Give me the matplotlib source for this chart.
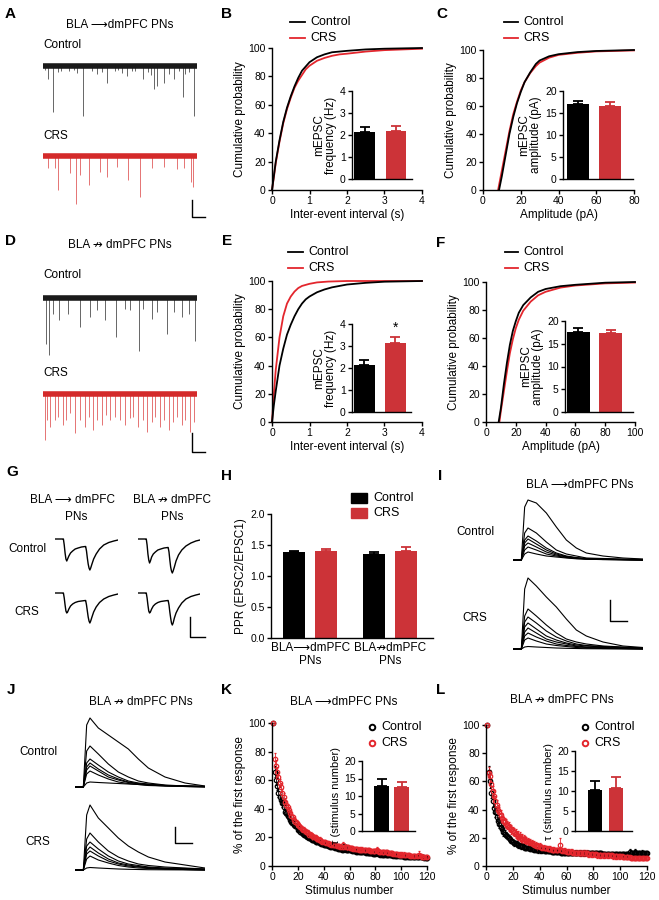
import numpy as np
import matplotlib
matplotlib.use('Agg')
import matplotlib.pyplot as plt
from matplotlib.lines import Line2D
from matplotlib.patches import Rectangle

plt.rcParams['font.family'] = ['Liberation Sans', 'DejaVu Sans']

RED = '#e3262d'
BAR_RED = '#cc3338'
W, H = 659, 900

# ---- A / D : spontaneous traces (event time s, amplitude pA) ----
A_ctrl_t = [0.1, 0.33, 0.65, 1.0, 1.2, 1.7, 2.0, 2.2, 2.6, 3.15, 3.48, 3.8, 4.13, 4.67, 4.9, 5.1,
            5.43, 5.76, 6.0, 6.52, 6.8, 7.0, 7.22, 7.39, 7.83, 8.15, 8.48, 8.8, 9.09, 9.24, 9.5, 9.83]
A_ctrl_amp = [4, 13, 46, 6, 5, 5, 4, 7, 50, 5, 8, 6, 17, 5, 4, 7,
              10, 5, 5, 13, 6, 9, 23, 20, 17, 8, 13, 5, 31, 8, 6, 50]
A_crs_t = [0.33, 0.76, 0.98, 1.74, 2.17, 2.39, 2.98, 3.7, 4.13, 4.78, 5.54, 6.3, 7.07, 7.83, 8.7, 9.13, 9.61, 9.74]
A_crs_amp = [12, 12, 34, 17, 48, 19, 29, 16, 21, 11, 24, 41, 12, 11, 13, 12, 26, 31]
D_ctrl_t = [0.22, 0.39, 0.65, 1.04, 1.63, 2.39, 3.04, 3.48, 4.02, 4.74, 5.33, 5.65, 6.26, 6.52, 7.07,
            7.39, 8.04, 8.48, 9.02, 9.46, 9.89]
D_ctrl_amp = [46, 57, 16, 22, 16, 29, 19, 12, 22, 39, 11, 12, 53, 11, 21, 14, 36, 14, 19, 16, 43]
D_crs_t = [0.11, 0.26, 0.43, 0.76, 0.98, 1.3, 1.52, 1.74, 2.07, 2.39, 2.72, 3.0, 3.26, 3.52, 3.8, 4.09,
           4.35, 4.67, 5.0, 5.33, 5.65, 5.87, 6.2, 6.52, 6.74, 7.07, 7.28, 7.61, 7.83, 8.15, 8.43, 8.7,
           9.02, 9.24, 9.57, 9.78]
D_crs_amp = [46, 26, 33, 26, 23, 31, 26, 19, 39, 26, 33, 23, 36, 26, 31, 21,
             26, 23, 26, 31, 24, 23, 33, 26, 38, 28, 23, 33, 26, 36, 28, 23,
             31, 26, 38, 28]

# ---- B / C / E / F : cumulative distributions ----
B_ctrl_x = [0, 0.05, 0.1, 0.2, 0.3, 0.4, 0.5, 0.6, 0.7, 0.8, 0.9, 1.0, 1.2, 1.4, 1.6, 1.8, 2.0, 2.5, 3.0, 4.0]
B_ctrl_y = [0, 10, 20, 35, 48, 58, 66, 73, 79, 84, 87, 90, 93.5, 95.5, 97, 97.5, 98, 99, 99.5, 100]
B_crs_x = [0, 0.05, 0.1, 0.2, 0.3, 0.4, 0.5, 0.6, 0.7, 0.8, 0.9, 1.0, 1.2, 1.4, 1.6, 1.8, 2.0, 2.5, 3.0, 3.5, 4.0]
B_crs_y = [0, 9, 19, 34, 47, 57, 65, 72, 77, 81, 85, 87.5, 91, 93, 94.5, 95.5, 96, 97.5, 98.5, 99, 99.5]
B_mean = [2.15, 2.18]
B_sem = [0.2, 0.25]

C_ctrl_x = [8.5, 10, 12, 14, 16, 18, 20, 22, 25, 28, 30, 35, 40, 50, 60, 80]
C_ctrl_y = [0, 10, 25, 40, 52, 62, 70, 77, 84, 90, 92.5, 95.5, 97, 98.5, 99.3, 100]
C_crs_x = [8, 10, 12, 14, 16, 18, 20, 22, 25, 28, 30, 35, 40, 50, 60, 80]
C_crs_y = [0, 14, 28, 42, 54, 63, 71, 77, 83.5, 88.5, 91, 94.5, 96.5, 98, 99, 99.7]
C_mean = [17.1, 16.5]
C_sem = [0.6, 0.9]

E_ctrl_x = [0, 0.05, 0.1, 0.2, 0.3, 0.4, 0.5, 0.6, 0.7, 0.8, 0.9, 1.0, 1.2, 1.4, 1.6, 1.8, 2.0, 2.5, 3.0, 4.0]
E_ctrl_y = [0, 12, 22, 40, 52, 62, 69, 75, 80, 84, 87, 89, 92, 94, 95.5, 96.5, 97.5, 98.7, 99.5, 100]
E_crs_x = [0, 0.05, 0.1, 0.2, 0.3, 0.4, 0.5, 0.6, 0.7, 0.8, 1.0, 1.2, 1.5, 2.0, 4.0]
E_crs_y = [0, 20, 37, 60, 75, 84, 89, 92.5, 95, 96.5, 98, 99, 99.6, 100, 100]
E_mean = [2.15, 3.15]
E_sem = [0.22, 0.25]

F_ctrl_x = [8.5, 10, 12, 14, 16, 18, 20, 22, 25, 30, 35, 40, 50, 60, 80, 100]
F_ctrl_y = [0, 10, 27, 42, 55, 65, 72, 78, 83.5, 89, 93, 95, 97, 98, 99.5, 100]
F_crs_x = [9, 10, 12, 14, 16, 18, 20, 22, 25, 30, 35, 40, 50, 60, 80, 100]
F_crs_y = [0, 8, 22, 36, 49, 59, 67, 73, 79.5, 86, 90.5, 93, 96, 97.5, 99, 99.6]
F_mean = [17.5, 17.3]
F_sem = [1.0, 0.7]

# ---- G : paired-pulse traces (ms, pA) ----
G_t = [0, 19, 20, 22, 24, 26, 28, 30, 33, 37, 42, 48, 55, 63, 72, 73, 75, 77, 79, 81, 83, 85, 88, 92,
       98, 106, 116, 128, 140, 150]
G_ctrl_a = [0, 0, 0, 6, 14, 20, 22, 20, 17, 14, 12, 10, 9, 8, 7.5, 7.5, 12, 19, 25, 29, 31, 29, 25, 20,
            15, 10, 6, 3.5, 2, 1]
G_ctrl_b = [0, 0, 0, 6, 15, 21, 24, 22, 18, 15, 13, 11, 10, 9, 8.5, 8.5, 13, 21, 28, 32, 34, 32, 28, 22,
            16, 11, 7, 4, 2, 1]
G_crs_a = [0, 0, 0, 5, 12, 18, 20, 19, 16, 13, 11, 9.5, 8.5, 8, 7.5, 7.5, 12, 18, 24, 28, 30, 28, 24, 19,
           14, 9.5, 6, 3.5, 2, 1]
G_crs_b = [0, 0, 0, 5, 12, 18, 20, 19, 16, 13, 11, 9.5, 8.5, 8, 7.5, 7.5, 12, 19, 25, 30, 32, 30, 25, 20,
           15, 10, 6, 3.5, 2, 1]

# ---- H : paired-pulse ratio ----
H_groups = ['BLA\u27f6dmPFC\nPNs', 'BLA\u219bdmPFC\nPNs']
H_ctrl = [1.38, 1.35]
H_ctrl_sem = [0.03, 0.035]
H_crs = [1.40, 1.40]
H_crs_sem = [0.04, 0.07]

# ---- I / J : train-evoked sweeps (ms, pA) ----
IJ_t = [0, 44, 50, 70, 90, 140, 200, 260, 320, 380, 440, 540, 660, 780]
I_ctrl = [
    [0, 0, 0, 53, 60, 57, 47, 33, 20, 12, 7, 4, 2, 1],
    [0, 0, 0, 27, 32, 27, 18, 10, 6, 4, 2, 1.5, 1, 0.5],
    [0, 0, 0, 20, 24, 19, 12, 7, 4, 2.5, 1.5, 1, 0.5, 0],
    [0, 0, 0, 17, 21, 16, 10, 6, 3.5, 2, 1.2, 0.8, 0.4, 0],
    [0, 0, 0, 14, 17, 13, 8, 5, 3, 2, 1, 0.6, 0.3, 0],
    [0, 0, 0, 10, 13, 10, 6, 4, 2.5, 1.5, 1, 0.5, 0.3, 0],
    [0, 0, 0, 6, 8, 6, 4, 3, 2, 1.2, 0.8, 0.4, 0.2, 0],
]
I_crs = [
    [0, 0, 0, 60, 71, 63, 52, 42, 30, 19, 13, 7, 3, 1.5],
    [0, 0, 0, 33, 40, 33, 24, 16, 10, 7, 5, 3, 2, 1],
    [0, 0, 0, 27, 32, 26, 18, 12, 8, 5, 3.5, 2.5, 1.5, 1],
    [0, 0, 0, 22, 26, 20, 13, 9, 6, 4, 3, 2, 1, 0.5],
    [0, 0, 0, 17, 21, 16, 10, 7, 5, 3, 2, 1.5, 1, 0.5],
    [0, 0, 0, 13, 16, 12, 8, 5, 3.5, 2.5, 1.5, 1, 0.5, 0],
    [0, 0, 0, 9, 11, 8, 5, 3.5, 2.5, 1.5, 1, 0.5, 0.3, 0],
    [0, 0, 0, 2, 2.5, 2, 1.5, 1, 0.7, 0.5, 0.3, 0.2, 0.1, 0],
]
J_ctrl = [
    [0, 0, 0, 62, 69, 59, 52, 45, 38, 28, 19, 10, 4, 1],
    [0, 0, 0, 36, 41, 33, 23, 15, 10, 6, 4, 2, 1, 0.5],
    [0, 0, 0, 24, 28, 22, 15, 10, 6, 4, 3, 1.5, 1, 0.5],
    [0, 0, 0, 20, 24, 18, 12, 8, 5, 3.5, 2.5, 1.5, 1, 0.5],
    [0, 0, 0, 17, 21, 16, 10, 7, 4.5, 3, 2, 1, 0.5, 0],
    [0, 0, 0, 13, 16, 12, 8, 5, 3.5, 2.5, 1.5, 1, 0.5, 0],
    [0, 0, 0, 4, 5, 4.5, 4, 3.5, 3, 2.5, 2, 1.5, 1, 0.5],
]
J_crs = [
    [0, 0, 0, 55, 65, 52, 42, 32, 24, 18, 13, 8, 5, 2],
    [0, 0, 0, 31, 37, 28, 19, 13, 9, 6, 4.5, 3, 2, 1],
    [0, 0, 0, 24, 28, 21, 14, 9, 6, 4.5, 3, 2, 1.5, 1],
    [0, 0, 0, 19, 23, 17, 11, 7, 5, 3.5, 2.5, 1.5, 1, 0.5],
    [0, 0, 0, 16, 19, 14, 9, 6, 4, 3, 2, 1, 0.5, 0],
    [0, 0, 0, 11, 14, 10, 7, 4.5, 3, 2, 1.5, 1, 0.5, 0],
    [0, 0, 0, 2, 2.5, 2, 1.5, 1, 0.7, 0.5, 0.3, 0.2, 0.1, 0],
]

# ---- K / L : short-term depression during the train ----
STIM = np.arange(1, 121)
K_ctrl = [100, 66, 60, 56, 51, 48, 46, 44, 41, 38, 37, 35, 34, 32, 31, 30, 29, 28, 27, 25.5,
          25, 24, 23, 22.5, 22, 21, 20.5, 20, 19.5, 19, 18.5, 18, 17.5, 17, 17, 16.5, 16, 15.5, 15.5, 15,
          14.5, 14.5, 14, 14, 13.5, 13.5, 13, 13, 12.5, 12.5, 12, 12, 12, 11.5, 11.5, 14, 11.5, 11, 11, 11,
          11, 10.5, 10.5, 10.5, 10, 10, 10, 10, 9.5, 9.5, 9.5, 9.5, 9, 9, 9, 9, 9, 8.5, 8.5, 8.5,
          9, 8.5, 8.5, 8, 8, 8, 8, 8, 7.5, 7.5, 7.5, 7.5, 7.5, 7, 7, 7, 7, 7, 7, 7,
          7, 6.5, 6.5, 6.5, 6.5, 6.5, 6.5, 6, 6, 6, 6, 6, 6, 6, 6, 6, 6, 5.5, 5.5, 5.5]
K_ctrl_err = [0, 4, 3.5, 3, 3, 2.5, 2.5, 2.5, 2, 2, 2, 2, 2, 2, 2, 2, 1.5, 1.5, 1.5, 1.5,
              1.5, 1.5, 1.5, 1.5, 1.5, 1.5, 1.5, 1.5, 1.5, 1.5, 1.5, 1.5, 1.5, 1.5, 1.5, 1.5, 1, 1, 1, 1,
              1, 1, 1, 1, 1, 1, 1, 1, 1, 1, 1, 1, 1, 1, 1, 1.5, 1, 1, 1, 1,
              1, 1, 1, 1, 1, 1, 1, 1, 1, 1, 1, 1, 1, 1, 1, 1, 1, 1, 1, 1,
              1.5, 1, 1, 1, 1, 1, 1, 1, 1, 1, 1, 1, 1, 1, 1, 1, 1, 1, 1, 1,
              1, 1, 1, 1, 1, 1, 1, 1, 1, 1, 1, 1, 1, 1, 1, 1, 1, 1, 1, 1]
K_crs = [100, 75, 70, 66, 62, 58, 55, 51, 48, 45, 43, 41, 39, 37, 35, 34, 32, 31, 30, 29,
         28, 27, 26, 25.5, 25, 24, 23.5, 23, 22, 21.5, 21, 20.5, 20, 19.5, 19, 18.5, 18, 17.5, 17, 17,
         16.5, 16, 16, 15.5, 15.5, 15, 15, 14.5, 14.5, 14, 14, 14, 13.5, 13.5, 15, 13.5, 13, 13, 13, 12.5,
         12.5, 12.5, 12, 12, 12, 12, 11.5, 11.5, 11.5, 11.5, 11, 11, 11, 11, 11, 10.5, 10.5, 10.5, 10.5, 10.5,
         11, 10.5, 10, 10, 10, 10, 9.5, 9.5, 9.5, 9, 9, 9, 9, 8.5, 8.5, 8.5, 8.5, 8, 8, 8,
         8, 8, 7.5, 7.5, 7.5, 7.5, 7, 7, 7, 7, 7, 7, 7, 8, 7, 6.5, 6.5, 6.5, 6.5, 6]
K_crs_err = [0, 4, 4, 3.5, 3.5, 3, 3, 3, 3, 2.5, 2.5, 2.5, 2.5, 2.5, 2.5, 2, 2, 2, 2, 2,
             2, 2, 2, 2, 2, 2, 2, 2, 2, 2, 2, 2, 2, 2, 2, 2, 2, 2, 1.5, 1.5,
             1.5, 1.5, 1.5, 1.5, 1.5, 1.5, 1.5, 1.5, 1.5, 1.5, 1.5, 1.5, 1.5, 1.5, 2, 1.5, 1.5, 1.5, 1.5, 1.5,
             1.5, 1.5, 1.5, 1.5, 1.5, 1.5, 1.5, 1.5, 1.5, 1.5, 1.5, 1.5, 1.5, 1.5, 1.5, 1.5, 1.5, 1.5, 1.5, 1.5,
             2, 1.5, 1.5, 1.5, 1.5, 1.5, 1.5, 1.5, 1.5, 1.5, 1.5, 1.5, 1.5, 1.5, 1.5, 1.5, 1.5, 1.5, 1.5, 1.5,
             1.5, 1.5, 1.5, 1.5, 1.5, 1.5, 1.5, 1.5, 1.5, 1.5, 1.5, 1.5, 1.5, 2.5, 1.5, 1.5, 1.5, 1.5, 1.5, 1.5]
K_mean = [12.8, 12.6]
K_sem = [2.0, 1.4]

L_ctrl = [100, 67, 60, 52, 46, 41, 38, 35, 32, 30, 28, 26, 24, 23, 22, 21, 20, 19, 18, 17,
          16.5, 16, 15.5, 15, 14.5, 14, 14, 13.5, 13, 13, 12.5, 12.5, 12, 12, 12, 11.5, 11.5, 11.5, 11, 11,
          11, 11, 11, 10.5, 10.5, 10.5, 10.5, 10.5, 10, 10, 10, 10, 10, 10, 10, 9.5, 9.5, 9.5, 9.5, 9.5,
          9.5, 9.5, 9.5, 9.5, 9, 9, 9, 9, 9, 9, 9, 9, 9, 9, 9, 9, 9, 9, 9, 9,
          9, 9, 9, 9, 9, 9, 8.5, 8.5, 8.5, 8.5, 8.5, 8.5, 8.5, 8.5, 8.5, 8.5, 8.5, 8.5, 8.5, 8.5,
          8.5, 8.5, 8.5, 8.5, 8.5, 8.5, 10, 9, 9, 9, 10, 9, 9, 9, 9, 9.5, 9, 9, 9, 9]
L_ctrl_err = [0, 4, 5, 4, 4, 3.5, 3.5, 3, 3, 3, 2.5, 2.5, 2.5, 2.5, 2, 2, 2, 2, 2, 2,
              2, 2, 2, 2, 2, 2, 2, 2, 1.5, 1.5, 1.5, 1.5, 1.5, 1.5, 1.5, 1.5, 1.5, 1.5, 1.5, 1.5,
              1.5, 1.5, 1.5, 1.5, 1.5, 1.5, 1.5, 1.5, 1.5, 1.5, 1.5, 1.5, 1.5, 1.5, 1.5, 1.5, 1.5, 1.5, 1.5, 1.5,
              1.5, 1.5, 1.5, 1.5, 1.5, 1.5, 1.5, 1.5, 1.5, 1.5, 1.5, 1.5, 1.5, 1.5, 1.5, 1.5, 1.5, 1.5, 1.5, 1.5,
              1.5, 1.5, 1.5, 1.5, 1.5, 1.5, 1.5, 1.5, 1.5, 1.5, 1.5, 1.5, 1.5, 1.5, 1.5, 1.5, 1.5, 1.5, 1.5, 1.5,
              1.5, 1.5, 1.5, 1.5, 1.5, 1.5, 2, 1.5, 1.5, 1.5, 2, 1.5, 1.5, 1.5, 1.5, 1.5, 1.5, 1.5, 1.5, 1.5]
L_crs = [100, 66, 64, 58, 53, 50, 46, 43, 40, 38, 36, 34, 32, 31, 30, 29, 28, 27, 26, 25,
         24, 23, 22, 21.5, 21, 20, 19.5, 19, 18.5, 18, 17.5, 17, 16.5, 16, 15.5, 15, 14.5, 14, 14, 13.5,
         13.5, 13, 13, 12.5, 12.5, 12, 12, 12, 11.5, 11.5, 11.5, 11, 11, 11, 15, 11, 10.5, 10.5, 10.5, 10,
         10, 10, 10, 10, 9.5, 9.5, 9.5, 9.5, 9.5, 9, 9, 9, 9, 9, 9, 8.5, 8.5, 8.5, 8.5, 8.5,
         8.5, 8.5, 8, 8, 8, 8, 8, 8, 7.5, 7.5, 7.5, 7.5, 7.5, 7.5, 7, 7, 7, 7, 7, 7,
         7, 6.5, 6.5, 6.5, 6.5, 6.5, 6.5, 6, 6, 6, 6, 6, 6, 6, 6, 6, 5.5, 5.5, 5.5, 5.5]
L_crs_err = [0, 4, 4, 4, 4, 4, 4, 3.5, 3.5, 3.5, 3.5, 3.5, 3, 3, 3, 3, 3, 3, 3, 3,
             3, 3, 3, 3, 3, 3, 3, 3, 2.5, 2.5, 2.5, 2.5, 2.5, 2.5, 2.5, 2.5, 2.5, 2.5, 2.5, 2.5,
             2, 2, 2, 2, 2, 2, 2, 2, 2, 2, 2, 2, 2, 2, 5, 2, 2, 2, 2, 2,
             2, 2, 2, 2, 2, 2, 2, 2, 2, 2, 2, 2, 2, 2, 2, 2, 2, 2, 2, 2,
             2, 2, 2, 2, 2, 2, 2, 2, 2, 2, 2, 2, 2, 2, 2, 2, 2, 2, 2, 2,
             1.5, 1.5, 1.5, 1.5, 1.5, 1.5, 1.5, 1.5, 1.5, 1.5, 1.5, 1.5, 1.5, 1.5, 1.5, 1.5, 1.5, 1.5, 1.5, 1.5]
L_mean = [10.3, 10.8]
L_sem = [2.3, 2.6]

fig = plt.figure(figsize=(6.59, 9.0), dpi=100)


def fx(x):
    return x / W


def fy(y):
    return 1 - y / H


def add_ax(x0, y0, x1, y1):
    return fig.add_axes([x0 / W, 1 - y1 / H, (x1 - x0) / W, (y1 - y0) / H])


def txt(x, y, s, size=8.5, **kw):
    kw.setdefault('va', 'center')
    fig.text(fx(x), fy(y), s, fontsize=size, **kw)


def style(ax, fs=7.5):
    for s in ['top', 'right']:
        ax.spines[s].set_visible(False)
    for s in ['left', 'bottom']:
        ax.spines[s].set_linewidth(1.0)
    ax.tick_params(width=1.0, length=3, labelsize=fs, pad=1.5)
    ax.patch.set_alpha(0)


def scalebar(x, y_top, y_bot, x_right):
    fig.add_artist(Line2D([fx(x), fx(x), fx(x_right)], [fy(y_top), fy(y_bot), fy(y_bot)],
                          color='k', lw=1.0))


def line_legend(x0, x1, y, label):
    for dy, c, lab in [(0, 'k', label[0]), (16, RED, label[1])]:
        fig.add_artist(Line2D([fx(x0), fx(x1)], [fy(y + dy), fy(y + dy)], color=c, lw=1.3))
        txt(x1 + 5, y + dy, lab, size=9)


def marker_legend(x, y):
    for dy, c, lab in [(0, 'k', 'Control'), (16, RED, 'CRS')]:
        fig.add_artist(Line2D([fx(x)], [fy(y + dy)], marker='o', ms=4, mfc='none', mec=c, mew=1.4))
        txt(x + 9, y + dy, lab, size=9)


def bar_inset(ax, means, sems, ymax, ystep, label, xlim, bw, fs=8.5):
    colors = ['k', BAR_RED]
    ax.bar([0, 1], means, width=bw, color=colors, zorder=2)
    for i in range(2):
        ax.errorbar(i, means[i], yerr=[[0], [sems[i]]], color=colors[i], capsize=3.5,
                    elinewidth=1.3, capthick=1.3, zorder=1)
    ax.set_xlim(*xlim)
    ax.set_ylim(0, ymax)
    ax.set_xticks([])
    ax.set_yticks(range(0, ymax + 1, ystep))
    ax.set_ylabel(label, fontsize=fs, labelpad=2, linespacing=1.0)
    style(ax)


def cum_panel(box, ibox, cx, cy, rx, ry, xmax, xstep, xlabel, means, sems, ymax, ystep, ilabel, ixlim, bw):
    ax = add_ax(*box)
    ax.plot(rx, ry, color=RED, lw=1.3, clip_on=False)
    ax.plot(cx, cy, color='k', lw=1.3, clip_on=False)
    ax.set_xlim(0, xmax)
    ax.set_ylim(0, 100)
    ax.set_xticks(range(0, xmax + 1, xstep))
    ax.set_yticks(range(0, 101, 20))
    ax.set_ylabel('Cumulative probability', fontsize=8.5, labelpad=2)
    ax.set_xlabel(xlabel, fontsize=8.5, labelpad=2)
    style(ax)
    ins = add_ax(*ibox)
    bar_inset(ins, means, sems, ymax, ystep, ilabel, ixlim, bw)
    return ax, ins


def event_trace(x0, x1, base_y, down, times, amps, band, ev):
    ax = add_ax(x0, base_y - 8, x1, base_y + down)
    ax.set_xlim(0, 10)
    ax.set_ylim(-down, 8)
    ax.vlines(times, 0, -np.array(amps), color=ev, lw=0.7)
    ax.axhline(0, color=band, lw=4)
    ax.axis('off')


def sweep_trace(x0, x1, base_y, up, t, sweeps, xmax):
    ax = add_ax(x0, base_y - up, x1, base_y + 3)
    ax.set_xlim(0, xmax)
    ax.set_ylim(-3, up)
    for s in sweeps:
        ax.plot(t, s, color='k', lw=0.8)
    ax.axis('off')


def pp_trace(x0, x1, base_y, vals):
    ax = add_ax(x0, base_y - 4, x1, base_y + 36)
    ax.set_xlim(0, 150)
    ax.set_ylim(-36, 4)
    ax.plot(G_t, -np.array(vals), color='k', lw=1.0)
    ax.axis('off')


# panel letters
for lab, x, y in [('A', 10, 14), ('B', 227, 14), ('C', 442, 14), ('D', 10, 241), ('E', 227, 241),
                  ('F', 441, 243), ('G', 12, 472), ('H', 227, 476), ('I', 440, 476), ('J', 11, 690),
                  ('K', 227, 690), ('L', 441, 690)]:
    txt(x, y, lab, size=11, weight='bold', ha='center')

# A
txt(120, 25, 'BLA \u27f6dmPFC PNs', ha='center')
txt(43, 45, 'Control', ha='left')
txt(43, 136, 'CRS', ha='left')
event_trace(43, 197, 66, 55, A_ctrl_t, A_ctrl_amp, '#1a1a1a', '#666666')
event_trace(43, 197, 156, 52, A_crs_t, A_crs_amp, '#d42a2a', '#e57373')
scalebar(192, 200, 217, 205)

# D
txt(120, 245, 'BLA \u219b dmPFC PNs', ha='center')
txt(43, 275, 'Control', ha='left')
txt(43, 373, 'CRS', ha='left')
event_trace(43, 197, 298, 60, D_ctrl_t, D_ctrl_amp, '#1a1a1a', '#666666')
event_trace(43, 197, 394, 50, D_crs_t, D_crs_amp, '#d42a2a', '#e57373')
scalebar(192, 433, 452, 205)

# B, C, E, F
cum_panel((272, 48, 422, 190), (352, 91, 412, 179), B_ctrl_x, B_ctrl_y, B_crs_x, B_crs_y, 4, 1,
          'Inter-event interval (s)', B_mean, B_sem, 4, 1, 'mEPSC\nfrequency (Hz)', (-0.4, 1.5), 0.65)
line_legend(290, 305, 22, ['Control', 'CRS'])
cum_panel((483, 50, 634, 190), (563, 91, 633, 179), C_ctrl_x, C_ctrl_y, C_crs_x, C_crs_y, 80, 20,
          'Amplitude (pA)', C_mean, C_sem, 20, 5, 'mEPSC\namplitude (pA)', (-0.45, 1.7), 0.68)
line_legend(504, 518, 22, ['Control', 'CRS'])
axE, insE = cum_panel((272, 281, 422, 422), (352, 324, 411, 412), E_ctrl_x, E_ctrl_y, E_crs_x, E_crs_y, 4, 1,
                      'Inter-event interval (s)', E_mean, E_sem, 4, 1, 'mEPSC\nfrequency (Hz)', (-0.4, 1.5), 0.65)
insE.text(1, E_mean[1] + E_sem[1] + 0.1, '*', ha='center', va='bottom', fontsize=10)
line_legend(288, 303, 252, ['Control', 'CRS'])
cum_panel((486, 282, 635, 422), (565, 321, 633, 412), F_ctrl_x, F_ctrl_y, F_crs_x, F_crs_y, 100, 20,
          'Amplitude (pA)', F_mean, F_sem, 20, 5, 'mEPSC\namplitude (pA)', (-0.4, 1.67), 0.7)
line_legend(505, 518, 252, ['Control', 'CRS'])

# G
txt(72, 500, 'BLA \u27f6 dmPFC', ha='center')
txt(76, 517, 'PNs', ha='center')
txt(172, 500, 'BLA \u219b dmPFC', ha='center')
txt(172, 517, 'PNs', ha='center')
txt(27, 549, 'Control', ha='center')
txt(27, 612, 'CRS', ha='center')
pp_trace(55, 118, 539, G_ctrl_a)
pp_trace(138, 200, 539, G_ctrl_b)
pp_trace(55, 118, 593, G_crs_a)
pp_trace(138, 200, 593, G_crs_b)
scalebar(190, 617, 637, 205)

# H
axH = add_ax(271, 514, 433, 638)
grp = np.arange(len(H_groups))
axH.bar(grp - 0.2, H_ctrl, 0.28, color='k', zorder=2)
axH.bar(grp + 0.2, H_crs, 0.28, color=BAR_RED, zorder=2)
for i in grp:
    axH.errorbar(i - 0.2, H_ctrl[i], yerr=[[0], [H_ctrl_sem[i]]], color='k', capsize=3.5,
                 elinewidth=1.3, capthick=1.3, zorder=1)
    axH.errorbar(i + 0.2, H_crs[i], yerr=[[0], [H_crs_sem[i]]], color=BAR_RED, capsize=3.5,
                 elinewidth=1.3, capthick=1.3, zorder=1)
axH.set_xlim(-0.49, 1.54)
axH.set_ylim(0, 2)
axH.set_yticks([0, 0.5, 1.0, 1.5, 2.0])
axH.set_yticklabels(['0.0', '0.5', '1.0', '1.5', '2.0'])
axH.set_xticks(grp)
axH.set_xticklabels(H_groups, fontsize=8.5, linespacing=1.1)
axH.set_ylabel('PPR (EPSC2/EPSC1)', fontsize=8.5, labelpad=2)
style(axH)
axH.tick_params(axis='x', length=0, labelsize=8.5, pad=3)
for dy, c, lab in [(0, 'k', 'Control'), (15, BAR_RED, 'CRS')]:
    fig.add_artist(Rectangle((fx(351), fy(503 + dy)), 16 / W, 10 / H, transform=fig.transFigure, color=c))
    txt(373, 498 + dy, lab, size=9)

# I
txt(580, 485, 'BLA \u27f6dmPFC PNs', ha='center')
txt(475, 532, 'Control', ha='center')
txt(475, 618, 'CRS', ha='center')
sweep_trace(513, 643, 560, 63, IJ_t, I_ctrl, 780)
sweep_trace(513, 643, 649, 74, IJ_t, I_crs, 780)
scalebar(610, 600, 621, 627)

# J
txt(141, 702, 'BLA \u219b dmPFC PNs', ha='center')
txt(38, 752, 'Control', ha='center')
txt(38, 842, 'CRS', ha='center')
sweep_trace(75, 205, 787, 72, IJ_t, J_ctrl, 780)
sweep_trace(75, 205, 870, 68, IJ_t, J_crs, 780)
scalebar(175, 827, 843, 192)


# K, L
def decay_panel(box, ibox, ctrl, ctrl_err, crs, crs_err, means, sems, ixlim, bw):
    ax = add_ax(*box)
    for vals, err, c in [(ctrl, ctrl_err, 'k'), (crs, crs_err, RED)]:
        ax.errorbar(STIM, vals, yerr=err, fmt='o', ms=3.2, mfc='none', mec=c, mew=0.9,
                    ecolor=c, elinewidth=0.6, capsize=1, clip_on=False)
    ax.set_xlim(0, 120)
    ax.set_ylim(0, 100)
    ax.set_xticks(range(0, 121, 20))
    ax.set_yticks(range(0, 101, 20))
    ax.set_ylabel('% of the first response', fontsize=8.5, labelpad=2)
    ax.set_xlabel('Stimulus number', fontsize=8.5, labelpad=2)
    style(ax)
    ins = add_ax(*ibox)
    bar_inset(ins, means, sems, 20, 5, '\u03c4 (stimulus number)', ixlim, bw, fs=8)
    return ax


txt(344, 702, 'BLA \u27f6dmPFC PNs', ha='center')
decay_panel((272, 723, 427, 866), (362, 761, 415, 831), K_ctrl, K_ctrl_err, K_crs, K_crs_err,
            K_mean, K_sem, (-1.0, 1.65), 0.75)
marker_legend(372, 727)

txt(562, 700, 'BLA \u219b dmPFC PNs', ha='center')
decay_panel((486, 725, 647, 866), (575, 751, 632, 831), L_ctrl, L_ctrl_err, L_crs, L_crs_err,
            L_mean, L_sem, (-0.95, 1.76), 0.7)
marker_legend(585, 727)

fig.savefig('out.png', dpi=100)
